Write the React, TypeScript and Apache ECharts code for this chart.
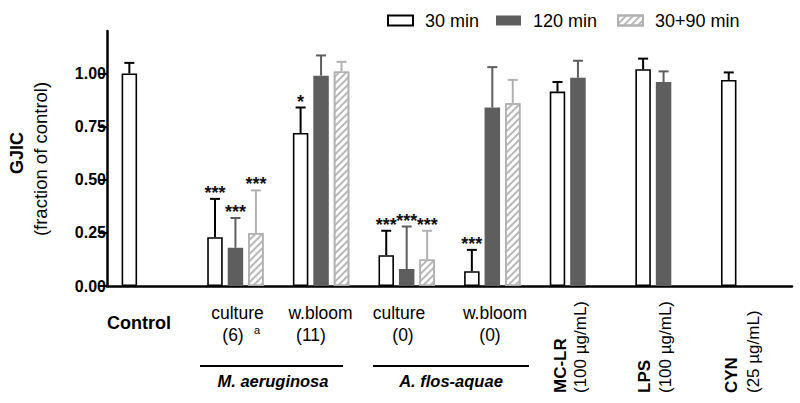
import React, { useEffect, useRef } from "react";
import * as echarts from "echarts";

const categories = ["Control", "M. aeruginosa culture", "M. aeruginosa w.bloom", "A. flos-aquae culture", "A. flos-aquae w.bloom", "MC-LR", "LPS", "CYN"];
const seriesNames = ["30 min", "120 min", "30+90 min"];
const min30 = [1.0, 0.23, 0.72, 0.145, 0.07, 0.915, 1.02, 0.97];
const min30Err = [0.05, 0.18, 0.12, 0.115, 0.1, 0.045, 0.05, 0.035];
const min120 = [null, 0.18, 0.99, 0.08, 0.84, 0.98, 0.96, null];
const min120Err = [null, 0.14, 0.095, 0.2, 0.19, 0.08, 0.05, null];
const min3090 = [null, 0.25, 1.01, 0.125, 0.86, null, null, null];
const min3090Err = [null, 0.2, 0.045, 0.135, 0.11, null, null, null];
const stars30 = ["", "***", "*", "***", "***", "", "", ""];
const stars120 = ["", "***", "", "***", "", "", "", ""];
const stars3090 = ["", "***", "", "***", "", "", "", ""];
const yTicks = [0, 0.25, 0.5, 0.75, 1.0];

const FONT = "Liberation Sans, Arial, sans-serif";
const BAR_W = 15.5;
const BAR_GAP = 0.32;

const values = [min30, min120, min3090];
const errs = [min30Err, min120Err, min3090Err];
const stars = [stars30, stars120, stars3090];
const errColors = ["#000000", "#5e5e5e", "#b0b0b0"];

export default function App() {
  const ref = useRef<HTMLDivElement>(null);
  useEffect(() => {
    const chart = echarts.init(ref.current!, null, { renderer: "svg" });
    const offset = BAR_W * (1 + BAR_GAP);

    const barStyles: any[] = [
      { color: "#ffffff", borderColor: "#000000", borderWidth: 1.6 },
      { color: "#5e5e5e" },
      {
        color: "#ffffff",
        borderColor: "#b0b0b0",
        borderWidth: 1.6,
        decal: {
          symbol: "rect",
          symbolSize: 1,
          dashArrayX: [1, 0],
          dashArrayY: [2, 3],
          rotation: -Math.PI / 4,
          color: "#b8b8b8",
        },
      },
    ];

    const barSeries = seriesNames.map((name, k) => ({
      type: "bar",
      name,
      data: values[k],
      barWidth: BAR_W,
      barGap: BAR_GAP * 100 + "%",
      itemStyle: barStyles[k],
      silent: true,
    }));

    const errSeries = seriesNames.map((name, k) => ({
      type: "custom",
      name: name + " err",
      z: 5,
      silent: true,
      encode: { x: 0, y: 2 },
      data: values[k]
        .map((v, i) => (v == null ? null : [i, v, v + (errs[k][i] as number)]))
        .filter((d) => d != null),
      renderItem: (params: any, api: any) => {
        const ci = api.value(0);
        const base = api.coord([ci, api.value(1)]);
        const top = api.coord([ci, api.value(2)]);
        const x = base[0] + (k - 1) * offset;
        const c = errColors[k];
        const children: any[] = [
          { type: "line", shape: { x1: x, y1: base[1], x2: x, y2: top[1] }, style: { stroke: c, lineWidth: 2 } },
          { type: "line", shape: { x1: x - 5, y1: top[1], x2: x + 5, y2: top[1] }, style: { stroke: c, lineWidth: 2 } },
        ];
        const s = stars[k][ci];
        if (s) {
          children.push({
            type: "text",
            x,
            y: top[1] - 6,
            style: { text: s, fontFamily: FONT, fontWeight: "bold", fontSize: 18, fill: "#111", align: "center", verticalAlign: "middle" },
          });
        }
        return { type: "group", children };
      },
    }));

    const txt = (text: string, x: number, y: number, extra: any = {}, rot = 0) => ({
      type: "text",
      x,
      y,
      rotation: rot,
      style: { text, fontFamily: FONT, fontSize: 17.5, fill: "#000", align: "center", verticalAlign: "middle", ...extra },
    });

    const graphic: any[] = [
      txt("GJIC", 17, 153, { fontWeight: "bold", fontSize: 18 }, Math.PI / 2),
      txt("(fraction of control)", 40, 159, { fontSize: 18.5 }, Math.PI / 2),
      txt("Control", 139, 323, { fontWeight: "bold", fontSize: 18 }),
      txt("culture", 237.5, 313),
      txt("(6)", 233, 335),
      txt("a", 257, 330, { fontSize: 11 }),
      txt("w.bloom", 320.5, 313),
      txt("(11)", 311, 335),
      txt("culture", 399, 313),
      txt("(0)", 403, 335),
      txt("w.bloom", 495, 313),
      txt("(0)", 490, 335),
      { type: "line", shape: { x1: 200, y1: 366, x2: 343, y2: 366 }, style: { stroke: "#000", lineWidth: 2 } },
      { type: "line", shape: { x1: 373, y1: 366, x2: 529, y2: 366 }, style: { stroke: "#000", lineWidth: 2 } },
      txt("M. aeruginosa", 273, 381, { fontWeight: "bold", fontStyle: "italic", fontSize: 16.5 }),
      txt("A. flos-aquae", 451, 381, { fontWeight: "bold", fontStyle: "italic", fontSize: 16.5 }),
      txt("MC-LR", 560, 393, { fontWeight: "bold", align: "left", fontSize: 17 }, Math.PI / 2),
      txt("(100 µg/mL)", 580, 393, { align: "left", fontSize: 17 }, Math.PI / 2),
      txt("LPS", 644, 393, { fontWeight: "bold", align: "left", fontSize: 17 }, Math.PI / 2),
      txt("(100 µg/mL)", 665.5, 393, { align: "left", fontSize: 17 }, Math.PI / 2),
      txt("CYN", 731, 393, { fontWeight: "bold", align: "left", fontSize: 17 }, Math.PI / 2),
      txt("(25 µg/mL)", 753, 393, { align: "left", fontSize: 17 }, Math.PI / 2),
    ];

    const legendLeft = [387, 496, 617];
    const legends = seriesNames.map((n, k) => ({
      data: [n],
      left: legendLeft[k],
      top: 10,
      padding: 0,
      icon: "rect",
      itemWidth: 25,
      itemHeight: 10,
      selectedMode: false,
      formatter: "{p|}{name}",
      textStyle: {
        fontFamily: FONT,
        fontSize: 18,
        color: "#000",
        lineHeight: 21,
        rich: { p: { width: 7 } },
      },
    }));

    chart.setOption({
      animation: false,
      backgroundColor: "#ffffff",
      legend: legends,
      grid: { left: 107, right: 8, top: 31, bottom: 117, containLabel: false },
      xAxis: {
        type: "category",
        data: categories,
        axisLine: { lineStyle: { color: "#000", width: 2.5 } },
        axisTick: { show: false },
        axisLabel: { show: false },
        splitLine: { show: false },
      },
      yAxis: {
        type: "value",
        min: 0,
        max: 1.2,
        interval: 0.25,
        axisLine: { show: true, lineStyle: { color: "#000", width: 2.5 } },
        axisTick: { show: true, length: 8, lineStyle: { width: 2, color: "#000" }, customValues: yTicks },
        axisLabel: {
          customValues: yTicks,
          formatter: (v: number) => v.toFixed(2),
          fontFamily: FONT,
          fontWeight: "bold",
          fontSize: 16,
          color: "#000",
          margin: 1,
        },
        splitLine: { show: false },
      },
      graphic,
      series: [...barSeries, ...errSeries],
    });
    return () => chart.dispose();
  }, []);
  return <div ref={ref} style={{ width: 800, height: 403, position: "absolute", left: 0, top: 0 }} />;
}
